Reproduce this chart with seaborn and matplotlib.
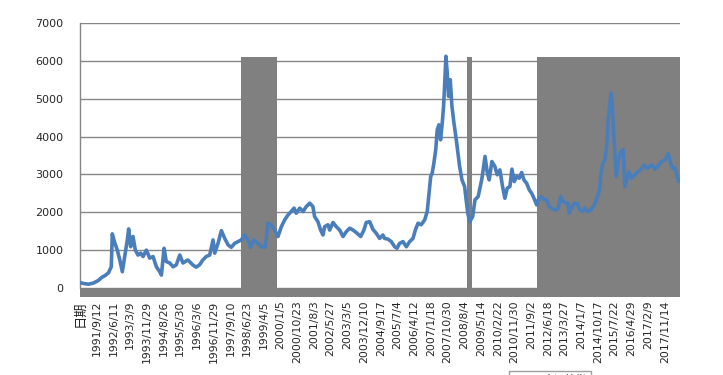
import matplotlib
matplotlib.use("Agg")
import matplotlib.pyplot as plt
import seaborn as sns
import pandas as pd

# category labels shown on the x axis (one every ~190 trading days)
tick_labels = [
    "日期", "1991/9/12", "1992/6/11", "1993/3/9", "1993/11/29", "1994/8/26",
    "1995/5/30", "1996/3/6", "1996/11/29", "1997/9/10", "1998/6/23", "1999/4/5",
    "2000/1/5", "2000/10/23", "2001/8/3", "2002/5/27", "2003/3/5", "2003/12/10",
    "2004/9/17", "2005/7/4", "2006/4/12", "2007/1/18", "2007/10/30", "2008/8/4",
    "2009/5/14", "2010/2/22", "2010/11/30", "2011/9/2", "2012/6/18", "2013/3/27",
    "2014/1/7", "2014/10/17", "2015/7/22", "2016/4/29", "2017/2/9", "2017/11/14",
]

# index level, position in label-interval units
pos = [
    0.0, 0.2, 0.5, 0.8, 1.1, 1.3, 1.5, 1.7, 1.87, 1.93, 2.08, 2.23, 2.38, 2.53,
    2.67, 2.83, 2.91, 3.03, 3.17, 3.31, 3.47, 3.63, 3.77, 3.97, 4.17, 4.37, 4.57,
    4.77, 4.87, 5.03, 5.16, 5.37, 5.57, 5.76, 5.97, 6.16, 6.45, 6.75, 6.95, 7.15,
    7.35, 7.55, 7.76, 7.96, 8.06, 8.26, 8.46, 8.66, 8.86, 9.05, 9.26, 9.46, 9.65,
    9.86, 10.05, 10.21, 10.41, 10.65, 10.85, 11.09, 11.25, 11.45, 11.65, 11.85,
    12.05, 12.25, 12.45, 12.64, 12.81, 12.94, 13.15, 13.35, 13.54, 13.75, 13.94,
    14.04, 14.24, 14.40, 14.54, 14.64, 14.84, 14.94, 15.14, 15.34, 15.54, 15.74,
    15.94, 16.14, 16.34, 16.53, 16.80, 16.99, 17.13, 17.34, 17.53, 17.73, 17.93,
    18.13, 18.23, 18.43, 18.63, 18.83, 18.97, 19.13, 19.33, 19.53, 19.73, 19.93,
    20.07, 20.23, 20.42, 20.63, 20.78, 20.87, 20.99, 21.08, 21.18, 21.29, 21.38,
    21.48, 21.58, 21.68, 21.76, 21.82, 21.90, 21.98, 22.06, 22.16, 22.26, 22.38,
    22.52, 22.62, 22.72, 22.86, 23.02, 23.11, 23.21, 23.32, 23.50, 23.64, 23.83,
    24.04, 24.13, 24.24, 24.38, 24.49, 24.65, 24.83, 24.97, 25.13, 25.29, 25.43,
    25.57, 25.73, 25.85, 25.99, 26.13, 26.29, 26.43, 26.57, 26.73, 26.89, 27.03,
    27.17, 27.33, 27.47, 27.63, 27.77, 27.93, 28.08, 28.29, 28.49, 28.62, 28.77,
    28.92, 29.19, 29.28, 29.42, 29.58, 29.78, 29.92, 30.06, 30.22, 30.38, 30.58,
    30.78, 30.94, 31.10, 31.18, 31.30, 31.42, 31.52, 31.61, 31.70, 31.78, 31.85,
    31.94, 32.02, 32.10, 32.22, 32.38, 32.51, 32.61, 32.73, 32.85, 33.01, 33.21,
    33.41, 33.61, 33.77, 33.93, 34.11, 34.25, 34.41, 34.61, 34.81, 35.01, 35.21,
    35.33, 35.45, 35.61, 35.73, 35.81, 35.91,
]
close = [
    140, 120, 100, 130, 200, 280, 330, 400, 560, 1430, 1190, 1000, 740, 430,
    830, 1270, 1560, 1090, 1360, 1000, 870, 920, 830, 1000, 790, 830, 560,
    430, 340, 1050, 700, 660, 560, 610, 870, 660, 740, 610, 550, 610,
    740, 830, 870, 1270, 920, 1180, 1515, 1310, 1140, 1075, 1180, 1225, 1270,
    1400, 1270, 1075, 1270, 1180, 1090, 1075, 1710, 1670, 1530, 1360,
    1620, 1800, 1930, 2020, 2110, 1975, 2110, 2020, 2150, 2240, 2150,
    1885, 1750, 1530, 1400, 1620, 1670, 1530, 1730, 1620, 1530, 1360,
    1490, 1580, 1530, 1465, 1360, 1530, 1730, 1750, 1550, 1445, 1310,
    1400, 1310, 1290, 1225, 1090, 1050, 1180, 1225, 1090, 1225, 1310,
    1530, 1710, 1670, 1800, 2020, 2415, 2945, 3035, 3300, 3650, 4180,
    4310, 3915, 4360, 4800, 5330, 6120, 5680, 5060, 5500, 4800, 4360,
    3915, 3560, 3210, 2855, 2680, 2330, 1975, 1750, 1885, 2330, 2415,
    2855, 3120, 3475, 3035, 2855, 3340, 3210, 2990, 3120, 2680, 2370,
    2635, 2680, 3140, 2810, 2945, 2900, 3050, 2855, 2770, 2590, 2505,
    2370, 2195, 2370, 2415, 2330, 2330, 2150, 2080, 2060, 2110, 2415,
    2280, 2240, 1975, 2110, 2240, 2220, 2060, 2020, 2110, 2020, 2060,
    2195, 2370, 2590, 3035, 3300, 3385, 3740, 4440, 4800, 5150, 4885,
    4090, 3560, 2945, 3385, 3610, 3650, 2680, 2855, 3075, 2900, 2990,
    3075, 3140, 3250, 3165, 3210, 3250, 3140, 3225, 3340, 3385, 3545,
    3315, 3165, 3165, 2990, 2810, 2855,
]

# shaded periods (second series drawn as grey columns)
shade_start = [9.63, 23.16, 27.35]
shade_end = [11.79, 23.46, 35.91]
shade_level = 6100
base_level = -240

df = pd.DataFrame({"pos": pos, "close": close})

sns.set_style("white")
plt.rcParams["font.family"] = ["DejaVu Sans", "Noto Sans CJK SC"]

fig = plt.figure(figsize=(7.23, 3.75), dpi=100)
ax = fig.add_axes([0.1107, 0.232, 0.8298, 0.7068])

grey = "#808080"
for s, e in zip(shade_start, shade_end):
    ax.fill_between([s, e], 0, shade_level, color=grey, lw=0, zorder=2)
ax.fill_between([0, shade_end[-1]], base_level, 0, color=grey, lw=0,
                clip_on=False, zorder=2)

sns.lineplot(data=df, x="pos", y="close", color="#4a7ebb", lw=2.6,
             ax=ax, zorder=3, label="上证综指", legend=False)

ax.set_xlim(0, shade_end[-1])
ax.set_ylim(0, 7000)
ax.set_yticks(range(0, 7001, 1000))
ax.set_xticks(range(len(tick_labels)))
ax.set_xticklabels(tick_labels, rotation=90, fontsize=7.8)
ax.tick_params(axis="y", labelsize=8, length=4, color="#868686", pad=8)
ax.tick_params(axis="x", length=0, pad=9)
first = ax.get_xticklabels()[0]
first.set_family(["Noto Sans CJK SC", "DejaVu Sans"])
first.set_fontsize(9.5)
ax.set_xlabel("")
ax.set_ylabel("")

ax.grid(axis="y", color="#868686", lw=1, zorder=1)
ax.grid(axis="x", visible=False)
for side in ["top", "right", "bottom"]:
    ax.spines[side].set_visible(False)
ax.spines["left"].set_color("#868686")
ax.spines["left"].set_linewidth(1)

# legend box sits at the lower edge, mostly outside the canvas as in the source
handles, labels = ax.get_legend_handles_labels()
fig.legend(handles, labels, loc="upper center", bbox_to_anchor=(0.761, 0.026),
           frameon=True, fancybox=False, edgecolor="#868686",
           prop={"family": ["Noto Sans CJK SC", "DejaVu Sans"], "size": 7.8})

fig.savefig("out.png", dpi=100)
